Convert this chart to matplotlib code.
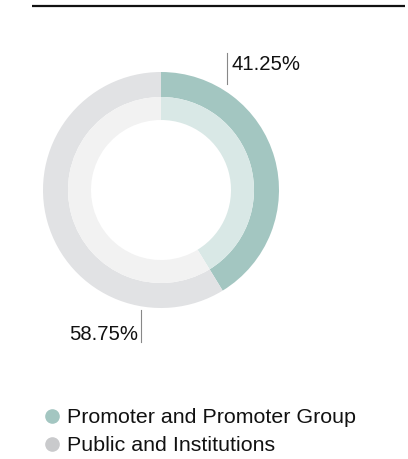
import matplotlib
matplotlib.use("Agg")
import matplotlib.pyplot as plt
from matplotlib.lines import Line2D

# Shareholding split
labels = ['Promoter and Promoter Group', 'Public and Institutions']
shares = [41.25, 58.75]
outer_colors = ['#a3c6c1', '#e1e2e4']
inner_colors = ['#d9e8e6', '#f2f2f2']
legend_colors = ['#a3c6c1', '#c9cacc']

plt.rcParams['font.family'] = ['Liberation Sans', 'DejaVu Sans']

W, H = 408, 459
fig = plt.figure(figsize=(W / 100, H / 100), dpi=100)

# overlay in pixel coordinates for rules, leader lines and labels
over = fig.add_axes([0, 0, 1, 1])
over.set_xlim(0, W)
over.set_ylim(H, 0)
over.axis('off')

# donut: centre (161, 190), outer radius 118 px
cx, cy, r = 161, 190, 118
ax = fig.add_axes([(cx - r) / W, (H - cy - r) / H, 2 * r / W, 2 * r / H])
ax.pie(shares, radius=1.0, colors=outer_colors, startangle=90, counterclock=False,
       wedgeprops=dict(width=25 / r, linewidth=0))
ax.pie(shares, radius=93 / r, colors=inner_colors, startangle=90, counterclock=False,
       wedgeprops=dict(width=23 / r, linewidth=0))
ax.set_xlim(-1, 1)
ax.set_ylim(-1, 1)
ax.axis('off')

# top rule
over.plot([32, 405], [6, 6], color='#111111', lw=1.6, solid_capstyle='butt')

# value labels with leader ticks
over.plot([227, 227], [53, 84], color='#888888', lw=0.8)
over.text(231, 64, f'{shares[0]:.2f}%', fontsize=14.6, color='#111111',
          ha='left', va='center')
over.plot([141, 141], [310, 342], color='#888888', lw=0.8)
over.text(138, 335, f'{shares[1]:.2f}%', fontsize=14.6, color='#111111',
          ha='right', va='center')

handles = [Line2D([], [], marker='o', ls='', markersize=9.5, color=c) for c in legend_colors]
fig.legend(handles, labels, loc='upper left', bbox_to_anchor=(46 / W, 1 - 408 / H),
           frameon=False, fontsize=15.4, handlelength=0.55, handletextpad=0.42,
           labelspacing=0.43, borderaxespad=0, borderpad=0, labelcolor='#111111')

fig.savefig('out.png', dpi=100)
